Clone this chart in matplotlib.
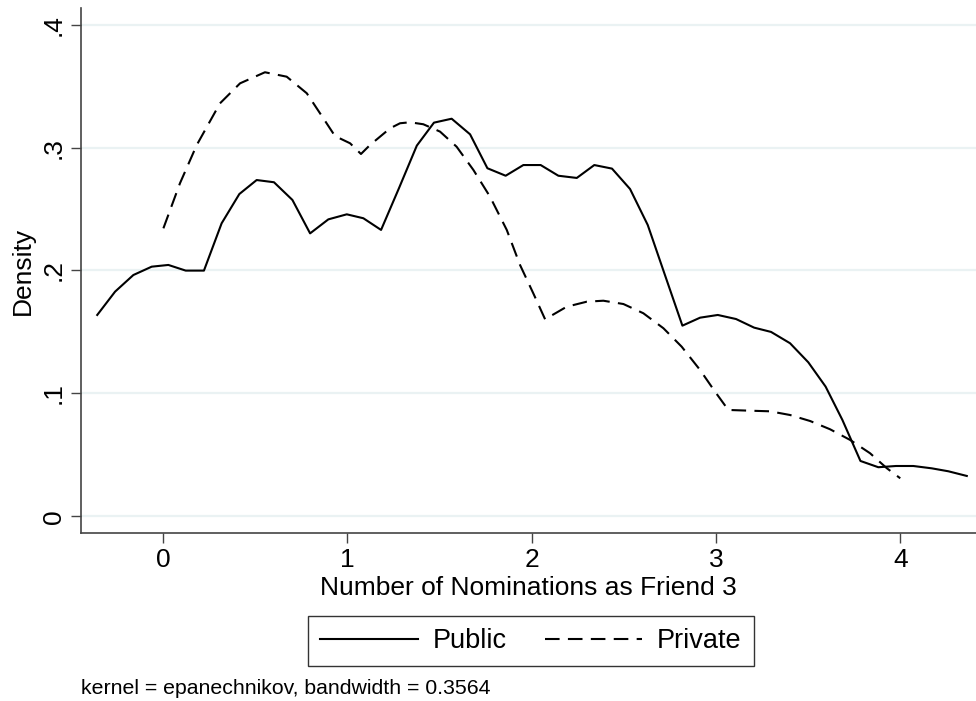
import matplotlib
matplotlib.use("Agg")
import matplotlib.pyplot as plt

plt.rcParams['font.family'] = ['Liberation Sans', 'DejaVu Sans']

# kernel density estimates (50-point grids)
public_x = [-0.357, -0.26, -0.161, -0.0615, 0.029, 0.123, 0.222, 0.318, 0.414, 0.508,
            0.602, 0.702, 0.798, 0.897, 0.997, 1.087, 1.183, 1.28, 1.377, 1.47,
            1.566, 1.666, 1.76, 1.859, 1.955, 2.049, 2.145, 2.245, 2.34, 2.436,
            2.534, 2.63, 2.724, 2.818, 2.914, 3.01, 3.109, 3.207, 3.299, 3.402,
            3.501, 3.595, 3.686, 3.784, 3.881, 3.977, 4.071, 4.171, 4.261, 4.361]
public_y = [0.1638, 0.1828, 0.1963, 0.2031, 0.2045, 0.1999, 0.1999, 0.2384, 0.2622, 0.2736,
            0.2718, 0.2574, 0.2302, 0.2416, 0.2457, 0.2425, 0.2330, 0.2669, 0.3016, 0.3203,
            0.3235, 0.3108, 0.2832, 0.2771, 0.2858, 0.2858, 0.2771, 0.2753, 0.2858, 0.2829,
            0.2663, 0.2370, 0.1960, 0.1551, 0.1616, 0.1638, 0.1605, 0.1535, 0.1500, 0.1408,
            0.1253, 0.1055, 0.0784, 0.0450, 0.0399, 0.0409, 0.0409, 0.0390, 0.0366, 0.0328]

private_x = [0.002, 0.092, 0.183, 0.309, 0.418, 0.553, 0.671, 0.780, 0.870, 0.933,
             1.015, 1.074, 1.123, 1.232, 1.286, 1.340, 1.412, 1.503, 1.593, 1.684,
             1.774, 1.865, 1.937, 2.009, 2.073, 2.190, 2.299, 2.389, 2.498, 2.606,
             2.715, 2.814, 2.914, 2.995, 3.067, 3.185, 3.294, 3.402, 3.511, 3.619,
             3.728, 3.836, 3.927, 4.000]
private_y = [0.2343, 0.2710, 0.3021, 0.3360, 0.3523, 0.3613, 0.3577, 0.3442, 0.3238, 0.3094,
             0.3035, 0.2948, 0.3021, 0.3157, 0.3198, 0.3206, 0.3190, 0.3130, 0.3007, 0.2818,
             0.2601, 0.2330, 0.2045, 0.1814, 0.1603, 0.1705, 0.1746, 0.1754, 0.1727, 0.1652,
             0.1530, 0.1380, 0.1190, 0.1014, 0.0865, 0.0859, 0.0854, 0.0824, 0.0775, 0.0708,
             0.0621, 0.0513, 0.0391, 0.0309]

yticks = [0, 0.1, 0.2, 0.3, 0.4]
ytick_labels = ['0', '.1', '.2', '.3', '.4']
xticks = [0, 1, 2, 3, 4]

fig = plt.figure(figsize=(9.76, 7.01), dpi=100)
ax = fig.add_axes([0.083, 0.2397, 0.917, 0.7489])

grid_col = '#eaf2f3'
for t in yticks:
    ax.axhline(t, color=grid_col, lw=1.6, zorder=0)

ax.plot(public_x, public_y, color='black', lw=1.5, label='Public')
ax.plot(private_x, private_y, color='black', lw=1.5, dashes=(7, 4), label='Private')

ax.set_xlim(-0.445, 4.411)
ax.set_ylim(-0.0136, 0.4136)
ax.set_xticks(xticks)
ax.set_yticks(yticks)
ax.set_yticklabels(ytick_labels)

for s in ['top', 'right']:
    ax.spines[s].set_visible(False)
for s in ['left', 'bottom']:
    ax.spines[s].set_color('#444444')
    ax.spines[s].set_linewidth(1.2)

ax.tick_params(axis='both', direction='out', length=7, width=1, color='#444444',
               labelsize=19, pad=4)
ax.tick_params(axis='y', labelrotation=90)
for lab in ax.get_yticklabels():
    lab.set_va('center')

ax.set_xlabel('Number of Nominations as Friend 3', fontsize=19, labelpad=3)
ax.set_ylabel('Density', fontsize=19, labelpad=5)

leg = fig.legend(loc='center', bbox_to_anchor=(531 / 976, 1 - 641 / 701), ncol=2,
                 fontsize=19.5, frameon=True, fancybox=False, edgecolor='black',
                 handlelength=3.6, handletextpad=0.55, columnspacing=1.4,
                 borderpad=0.45, borderaxespad=0)
leg.get_frame().set_linewidth(1.0)

fig.text(81 / 976, 1 - 689 / 701, 'kernel = epanechnikov, bandwidth = 0.3564',
         fontsize=15.3, va='center', ha='left')

fig.savefig('out.png', dpi=100)
